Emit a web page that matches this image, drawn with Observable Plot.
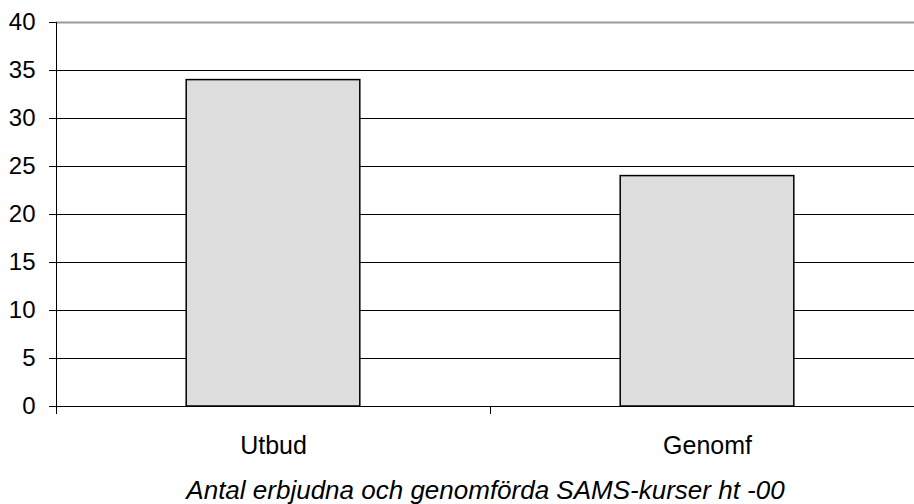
<!DOCTYPE html>
<html>
<head>
<meta charset="utf-8">
<script src="https://cdn.jsdelivr.net/npm/d3@7"></script>
<script src="https://cdn.jsdelivr.net/npm/@observablehq/plot@0.6"></script>
<style>
  html, body { margin: 0; padding: 0; background: #fff; }
</style>
</head>
<body>
<div id="chart"></div>
<script>
const categories = ["Utbud", "Genomf"];
const values = [34, 24];
const yTicks = [0, 5, 10, 15, 20, 25, 30, 35, 40];
const caption = "Antal erbjudna och genomförda SAMS-kurser ht -00";

const data = categories.map((c, i) => ({ category: c, index: i, value: values[i] }));
const boundaries = d3.range(categories.length + 1).map(i => i - 0.5);

const chart = Plot.plot({
  width: 914,
  height: 504,
  marginLeft: 56,
  marginRight: 0,
  marginTop: 22,
  marginBottom: 98,
  style: { fontFamily: "'Liberation Sans', Arial, sans-serif", fontSize: "24px", color: "#000", background: "#fff" },
  x: { domain: [-0.5, categories.length - 0.5], range: [56, 56 + 434 * categories.length], axis: null },
  y: { domain: [0, 40], axis: null },
  marks: [
    Plot.ruleY(yTicks.filter(t => t < 40), { stroke: "#000", strokeWidth: 1 }),
    Plot.ruleY([40], { stroke: "#999", strokeWidth: 2 }),
    Plot.rect(data, {
      x1: d => d.index - 0.2, x2: d => d.index + 0.2,
      y1: 0, y2: "value",
      fill: "#dddddd", stroke: "#000", strokeWidth: 1.5
    }),
    Plot.ruleX([-0.5], { y1: 0, y2: 40, stroke: "#000" }),
    Plot.axisY({ ticks: yTicks, tickSize: 7, tickFormat: () => "", stroke: "#000", label: null }),
    Plot.text(yTicks, { x: -0.5, y: d => d, text: d => String(d), dx: -21, textAnchor: "end", fill: "#000", fontSize: 24 }),
    Plot.axisX({ ticks: boundaries, tickSize: 8, tickFormat: () => "", stroke: "#000", label: null }),
    Plot.text(data, { x: "index", y: 0, text: "category", dy: 47, lineAnchor: "bottom", fill: "#000", fontSize: 25 }),
    Plot.text([caption], { frameAnchor: "bottom", text: d => d, dy: 92, lineAnchor: "bottom", fontStyle: "italic", fill: "#000", fontSize: 26 })
  ]
});
document.getElementById("chart").appendChild(chart);
</script>
</body>
</html>
